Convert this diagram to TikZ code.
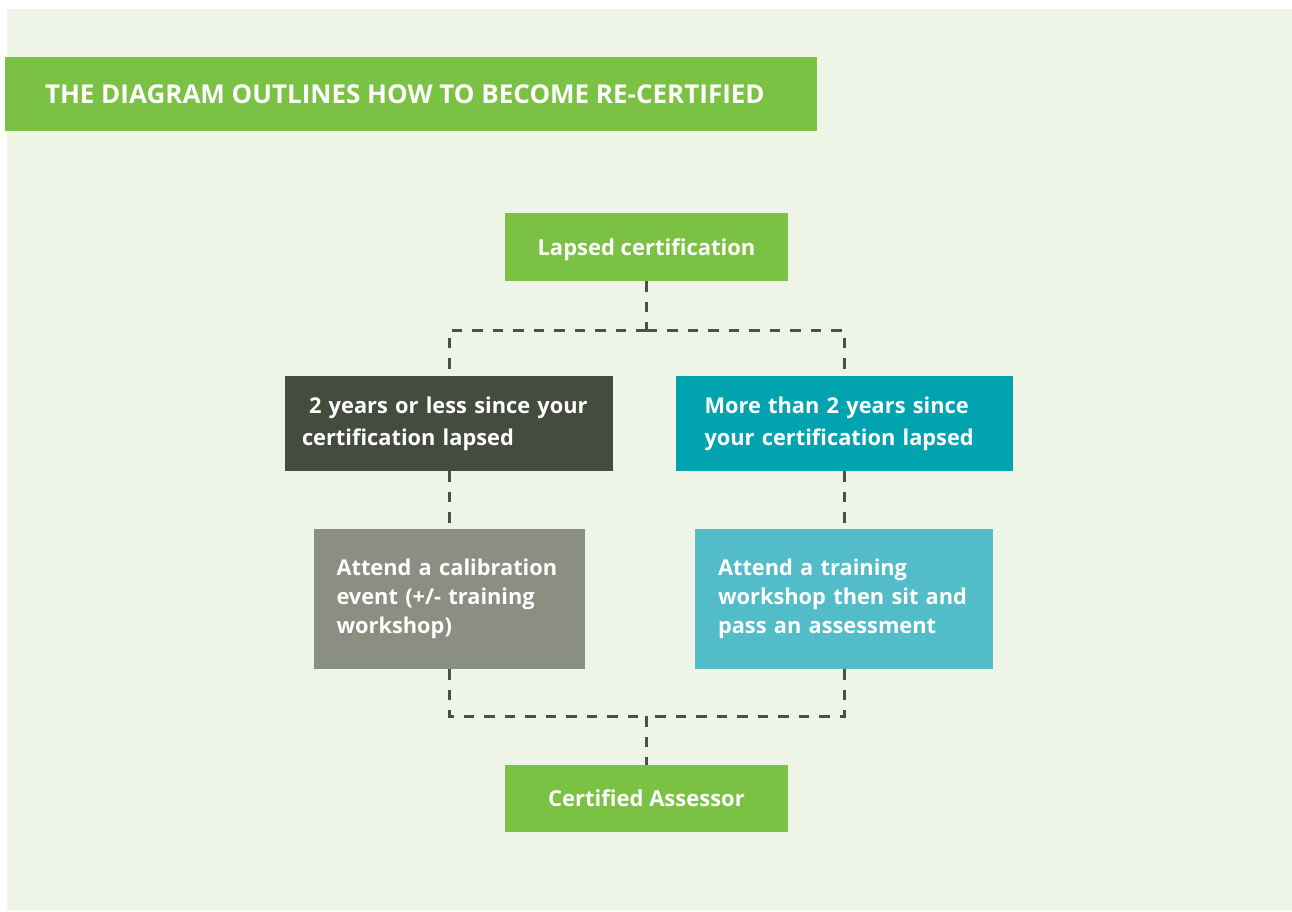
\documentclass[tikz,border=0pt]{standalone}
\usepackage{fontspec}
\setmainfont{Open Sans}
\definecolor{bgpale}{HTML}{EEF5E6}
\definecolor{leafgreen}{HTML}{7BC143}
\definecolor{olivedark}{HTML}{464C3D}
\definecolor{teal}{HTML}{00A3AF}
\definecolor{sage}{HTML}{8A8F81}
\definecolor{lightteal}{HTML}{52BCC8}
\definecolor{dashgrey}{HTML}{4A4F47}
\begin{document}
\begin{tikzpicture}[x=1pt, y=-1pt, font=\bfseries, line join=miter,
		box/.style={text=white, inner ysep=0pt, outer sep=0pt},
		endbox/.style={box, fill=leafgreen, minimum width=283pt, minimum height=67pt, font=\bfseries\fontsize{22}{26}\selectfont},
		topbox/.style={box, align=left, minimum height=95pt, font=\bfseries\fontsize{21.8}{32}\selectfont},
		lowbox/.style={box, align=left, minimum height=140pt, font=\bfseries\fontsize{21.8}{29}\selectfont},
		link/.style={draw=dashgrey, line width=3pt, dash pattern=on 10.5pt off 10pt}]
			\useasboundingbox (0,0) rectangle (1292,911);
			\fill[bgpale] (7,9) rectangle (1292,910);
			\fill[leafgreen] (5,57) rectangle (817,131);
			\node[box, anchor=west, font=\bfseries\fontsize{26}{30}\selectfont, inner xsep=0pt] (title) at (45,94) {THE DIAGRAM OUTLINES HOW TO BECOME RE-CERTIFIED};
			\node[endbox, minimum height=68pt, text depth=0pt] (lapsed) at (646.5,247) {Lapsed certification};
			\node[topbox, fill=olivedark, inner xsep=17pt, text width=294pt] (short) at (449,423.5) {\hspace{7pt}2 years or less since your\\certification lapsed};
			\node[topbox, fill=teal, inner xsep=29pt, text width=279pt] (long) at (844,423.5) {More than 2 years since\\your certification lapsed};
			\node[lowbox, fill=sage, inner xsep=23pt, text width=225pt] (calib) at (449,599) {Attend a calibration\\event (+/- training\\workshop)};
			\node[lowbox, fill=lightteal, inner xsep=23pt, text width=252pt] (train) at (844,599) {Attend a training\\workshop then sit and\\pass an assessment};
			\node[endbox] (certified) at (646.5,798.5) {Certified Assessor};
			\coordinate (split) at (646.5,330);
			\coordinate (join) at (646.5,716);
			\draw[link] (lapsed.south) -- (split);
			\draw[link] (split) -| (short.north);
			\draw[link] (split) -| (long.north);
			\draw[link] (short.south) -- (calib.north);
			\draw[link] (long.south) -- (train.north);
			\draw[link] (calib.south) |- (join);
			\draw[link] (train.south) |- (join);
			\draw[link] (join) -- (certified.north);
\end{tikzpicture}
\end{document}
